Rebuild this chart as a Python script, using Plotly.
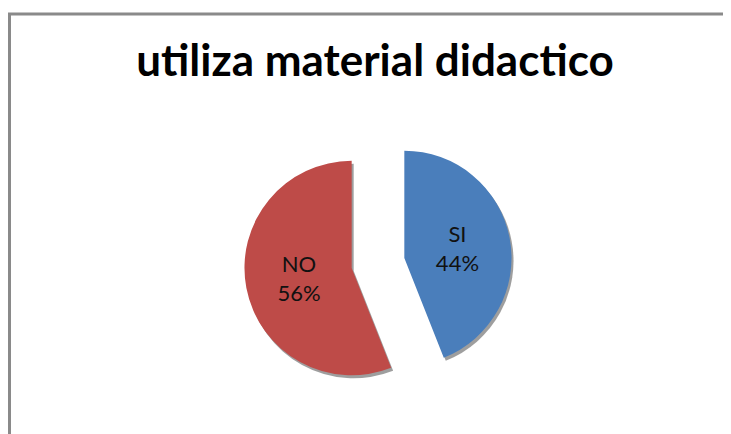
import plotly.graph_objects as go

# data
labels = ["SI", "NO"]
values = [44, 56]
colors = ["#4A7EBB", "#BE4B48"]
title = "utiliza material didactico"

# page body has an 8px margin, so the figure is drawn 8px in from the window
OFF = 8
W, H = 731 - OFF, 434 - OFF

# pie geometry (window pixels)
cx, cy = 378, 263
half = 134
pull = 0.25


def px(x):
    return (x - OFF) / W


def py(y):
    return 1 - (y - OFF) / H


def dom(dx=0, dy=0):
    return dict(
        x=[px(cx - half + dx), px(cx + half + dx)],
        y=[py(cy + half + dy), py(cy - half + dy)],
    )


fig = go.Figure()

# soft shadow behind the slices
fig.add_trace(go.Pie(
    labels=labels, values=values, sort=False, direction="clockwise", rotation=0,
    pull=[pull, pull], domain=dom(2, 3),
    marker=dict(colors=["rgba(40,40,40,0.45)"] * 2, line=dict(width=0)),
    textinfo="none", hoverinfo="skip", showlegend=False,
))

fig.add_trace(go.Pie(
    labels=labels, values=values, sort=False, direction="clockwise", rotation=0,
    pull=[pull, pull], domain=dom(),
    marker=dict(colors=colors, line=dict(width=0)),
    texttemplate="%{label}<br>%{percent:.0%}",
    textposition="inside", insidetextorientation="horizontal",
    textfont=dict(family="Lato", size=22, color="#111111"),
    showlegend=False,
))

fig.update_layout(
    width=W, height=H, autosize=False,
    margin=dict(l=0, r=0, t=0, b=0),
    paper_bgcolor="white",
    title=dict(
        text=title, x=px(375), xanchor="center", y=py(61), yanchor="middle",
        font=dict(family="Lato", size=44, color="black", weight="bold"),
    ),
    shapes=[
        dict(type="line", xref="paper", yref="paper", x0=px(8), x1=1, y0=py(14), y1=py(14),
             line=dict(color="#8a8a8a", width=3)),
        dict(type="line", xref="paper", yref="paper", x0=px(9.5), x1=px(9.5), y0=0, y1=py(14),
             line=dict(color="#8a8a8a", width=3)),
    ],
)

fig.write_html("out.html")
